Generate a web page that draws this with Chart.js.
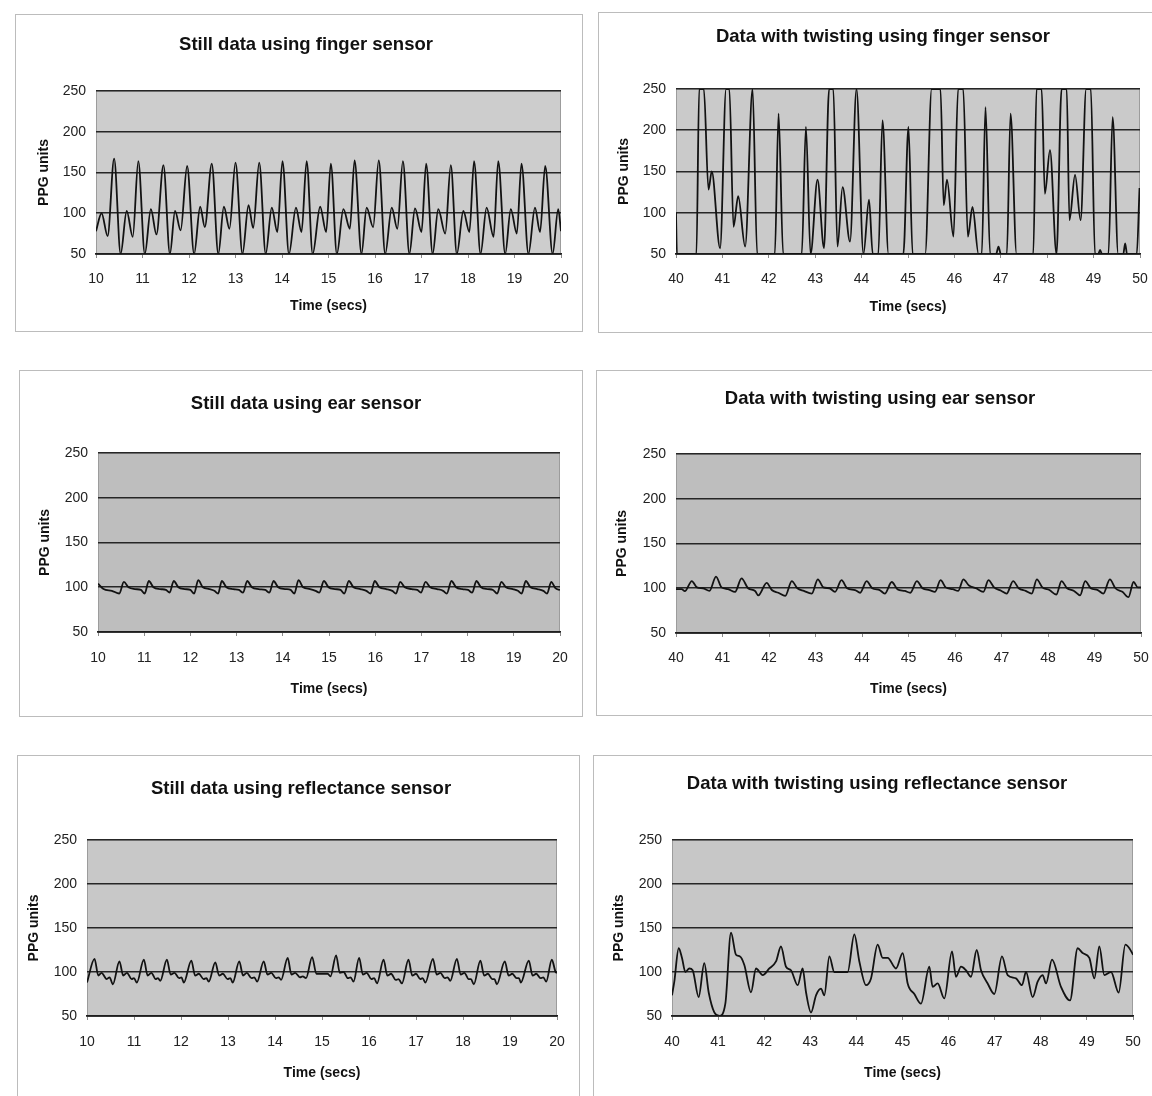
<!DOCTYPE html>
<html>
<head>
<meta charset="utf-8">
<title>PPG sensor comparison</title>
<script src="https://cdn.jsdelivr.net/npm/chart.js@4.4.1/dist/chart.umd.min.js"></script>
<style>
  html, body { margin: 0; padding: 0; background: #fff; }
  body { position: relative; width: 1152px; height: 1096px; overflow: hidden; }
  .frame { position: absolute; box-sizing: border-box; border: 1.5px solid #bcbcbc; }
  canvas { position: absolute; }
</style>
</head>
<body>
<script>
// ---- data (time in secs, PPG units) ----

const yTicks = [50, 100, 150, 200, 250];

// still, finger sensor
const fingerStillTime = [10.00, 10.12, 10.25,
  10.39, 10.53, 10.66, 10.79,  10.91, 11.05, 11.18, 11.30,  11.45, 11.59, 11.70, 11.82,
  11.96, 12.11, 12.24, 12.34,  12.49, 12.63, 12.75, 12.87,  13.00, 13.15, 13.28, 13.38,
  13.51, 13.65, 13.78, 13.90,  14.01, 14.15, 14.30, 14.42,  14.53, 14.66, 14.82, 14.95,
  15.05, 15.18, 15.32, 15.46,  15.56, 15.71, 15.82, 15.96,  16.08, 16.22, 16.36, 16.48,
  16.60, 16.74, 16.86, 17.00,  17.10, 17.24, 17.36, 17.51,  17.63, 17.76, 17.90, 18.03,
  18.13, 18.27, 18.40, 18.55,  18.65, 18.80, 18.92, 19.05,  19.15, 19.30, 19.44, 19.55,
  19.66, 19.82, 19.94, 20.00];
const fingerStillPPG = [78, 100, 72,
  167, 50, 103, 71,  164, 50, 105, 74,  159, 50, 103, 79,
  158, 50, 108, 83,  161, 50, 108, 81,  162, 50, 110, 82,
  162, 50, 107, 77,  164, 50, 107, 77,  164, 50, 108, 77,
  161, 50, 105, 81,  165, 50, 107, 83,  165, 50, 107, 81,
  164, 50, 106, 77,  161, 50, 105, 75,  159, 50, 103, 77,
  164, 50, 107, 71,  164, 50, 105, 75,  161, 50, 107, 77,
  158, 50, 105, 78];

// twisting, finger sensor (flat runs are where the trace is clipped at 50 / 250)
const fingerTwistTime = [40.00, 40.02, 40.44, 40.50, 40.60, 40.70, 40.77, 40.95, 41.08, 41.15,
  41.24, 41.34, 41.49, 41.65, 41.75, 42.13, 42.21, 42.31, 42.71, 42.80,
  42.90, 43.05, 43.19, 43.30, 43.39, 43.48, 43.59, 43.75, 43.89, 44.04,
  44.16, 44.24, 44.36, 44.45, 44.58, 44.90, 45.01, 45.10, 45.37, 45.51,
  45.70, 45.77, 45.84, 45.98, 46.08, 46.19, 46.29, 46.39, 46.52, 46.59,
  46.67, 46.77, 46.90, 46.95, 47.00, 47.13, 47.21, 47.34, 47.70, 47.77,
  47.88, 47.95, 48.06, 48.20, 48.31, 48.42, 48.48, 48.60, 48.72, 48.84,
  48.94, 49.03, 49.10, 49.14, 49.18, 49.32, 49.41, 49.53, 49.64, 49.68,
  49.72, 49.93, 49.99];
const fingerTwistPPG = [100, 50, 50, 250, 250, 128, 150, 57, 250, 250,
  83, 120, 59, 250, 50, 50, 220, 50, 50, 204,
  50, 140, 57, 250, 250, 59, 131, 65, 250, 50,
  116, 50, 50, 212, 50, 50, 204, 50, 50, 250,
  250, 109, 140, 71, 250, 250, 71, 107, 50, 50,
  228, 50, 50, 59, 50, 50, 220, 50, 50, 250,
  250, 123, 176, 50, 250, 250, 91, 146, 91, 250,
  250, 50, 50, 55, 50, 50, 216, 50, 50, 63,
  50, 50, 130];

// still, ear sensor
const earStillTime = [10.00, 10.12, 10.30, 10.46,
  10.56, 10.66, 10.80, 10.93, 11.01,  11.10, 11.20, 11.35, 11.47, 11.55,
  11.64, 11.74, 11.88, 12.00, 12.08,  12.17, 12.27, 12.41, 12.52, 12.60,
  12.68, 12.78, 12.93, 13.05, 13.14,  13.23, 13.33, 13.48, 13.62, 13.71,
  13.80, 13.90, 14.05, 14.17, 14.25,  14.34, 14.44, 14.59, 14.71, 14.79,
  14.89, 14.99, 15.13, 15.25, 15.33,  15.43, 15.53, 15.68, 15.81, 15.90,
  15.99, 16.09, 16.24, 16.37, 16.45,  16.54, 16.64, 16.79, 16.91, 16.99,
  17.09, 17.19, 17.34, 17.47, 17.55,  17.65, 17.75, 17.89, 18.01, 18.10,
  18.19, 18.29, 18.44, 18.55, 18.64,  18.73, 18.83, 18.98, 19.09, 19.17,
  19.26, 19.36, 19.51, 19.64, 19.72,  19.81, 19.90, 20.00];
const earStillPPG = [104, 98, 96, 93,
  106, 100, 98, 97, 93,  107, 100, 98, 97, 94,
  107, 100, 98, 97, 93,  108, 100, 98, 96, 93,
  107, 100, 98, 97, 94,  107, 100, 98, 97, 94,
  107, 100, 98, 97, 93,  108, 100, 98, 96, 94,
  107, 100, 98, 97, 93,  107, 100, 98, 96, 93,
  107, 100, 98, 96, 93,  106, 100, 98, 97, 94,
  106, 100, 98, 96, 93,  107, 100, 98, 97, 94,
  107, 100, 98, 97, 93,  106, 100, 98, 96, 93,
  107, 100, 98, 96, 93,  106, 99, 97];

// twisting, ear sensor
const earTwistTime = [40.00, 40.12, 40.19,
  40.34, 40.45, 40.58, 40.72,  40.86, 40.98, 41.12, 41.27,  41.41, 41.55, 41.70, 41.77,
  41.95, 42.06, 42.20, 42.35,  42.49, 42.61, 42.75, 42.92,  43.05, 43.17, 43.30, 43.42,
  43.56, 43.68, 43.85, 43.96,  44.10, 44.22, 44.38, 44.49,  44.64, 44.76, 44.92, 45.04,
  45.18, 45.30, 45.45, 45.57,  45.69, 45.80, 45.95, 46.07,  46.18, 46.30, 46.45, 46.61,
  46.72, 46.84, 47.00, 47.11,  47.25, 47.37, 47.52, 47.65,  47.76, 47.88, 48.03, 48.18,
  48.29, 48.41, 48.56, 48.69,  48.80, 48.92, 49.07, 49.19,  49.33, 49.45, 49.60, 49.73,
  49.84, 49.93, 50.00];
const earTwistPPG = [99, 99, 96.7,
  108, 101, 100, 97,  113, 101, 99, 96,  111, 100, 97, 92,
  106, 98, 95, 91.5,  108, 100, 97, 94,  110, 101, 100, 96,
  109, 100, 98, 95,  108, 100, 98, 94,  107, 99, 97, 95,
  108, 100, 98, 96,  109, 101, 99, 97,  110, 103, 100, 96,
  109, 101, 97, 94,  108, 100, 97, 94,  110, 101, 98, 93,
  108, 100, 97, 92,  108, 100, 98, 94,  110, 100, 96, 90,
  107, 101, 101];

// still, reflectance sensor
const reflStillTime = [10.00,
  10.16, 10.24, 10.31, 10.42, 10.48, 10.55,  10.69, 10.77, 10.85, 10.95, 11.00, 11.06,
  11.21, 11.29, 11.37, 11.46, 11.51, 11.56,  11.70, 11.78, 11.86, 11.96, 12.01, 12.06,
  12.22, 12.30, 12.38, 12.48, 12.54, 12.59,  12.73, 12.81, 12.89, 12.99, 13.05, 13.10,
  13.24, 13.32, 13.40, 13.50, 13.56, 13.62,  13.76, 13.84, 13.92, 14.02, 14.08, 14.13,
  14.27, 14.35, 14.43, 14.53, 14.59, 14.66,  14.79, 14.88, 15.00, 15.12, 15.18,
  15.30, 15.38, 15.46, 15.55, 15.61, 15.67,  15.79, 15.87, 15.95, 16.05, 16.11, 16.17,
  16.31, 16.39, 16.47, 16.57, 16.63, 16.70,  16.84, 16.92, 17.00, 17.09, 17.14, 17.20,
  17.36, 17.44, 17.52, 17.61, 17.67, 17.73,  17.87, 17.95, 18.03, 18.12, 18.17, 18.23,
  18.37, 18.45, 18.53, 18.62, 18.67, 18.72,  18.89, 18.97, 19.05, 19.14, 19.19, 19.23,
  19.40, 19.48, 19.56, 19.65, 19.71, 19.77,  19.89, 19.97, 20.00];
const reflStillPPG = [88,
  115, 96, 99, 92, 94, 86,  112, 96, 99, 92, 93, 88,
  114, 96, 99, 92, 93, 90,  114, 97, 99, 93, 94, 88,
  113, 96, 98, 92, 93, 89,  111, 96, 98, 92, 93, 88,
  112, 96, 99, 93, 94, 89,  112, 97, 99, 93, 94, 91,
  116, 97, 99, 94, 95, 93,  117, 98, 98, 98, 95,
  119, 99, 100, 93, 94, 89,  116, 97, 99, 92, 93, 87,
  114, 96, 98, 91, 92, 87,  114, 96, 98, 92, 93, 88,
  115, 97, 99, 93, 94, 90,  115, 97, 99, 92, 92, 86,
  113, 96, 98, 92, 92, 86,  112, 96, 98, 93, 93, 88,
  113, 96, 98, 93, 94, 89,  114, 100, 99];

// twisting, reflectance sensor
const reflTwistTime = [40.00, 40.05, 40.145, 40.217, 40.289, 40.376, 40.448, 40.578, 40.70, 40.795,
  40.918, 41.027, 41.157, 41.28, 41.388, 41.475, 41.569, 41.714, 41.822, 41.967,
  42.111, 42.256, 42.364, 42.473, 42.581, 42.726, 42.834, 42.907, 43.015, 43.124,
  43.232, 43.304, 43.413, 43.521, 43.81, 43.955, 44.064, 44.208, 44.317, 44.461,
  44.57, 44.678, 44.859, 45.004, 45.112, 45.257, 45.401, 45.582, 45.654, 45.763,
  45.907, 46.074, 46.16, 46.269, 46.377, 46.486, 46.609, 46.703, 46.847, 46.992,
  47.158, 47.281, 47.462, 47.592, 47.679, 47.824, 47.932, 48.04, 48.113, 48.243,
  48.438, 48.633, 48.80, 48.908, 49.053, 49.161, 49.27, 49.378, 49.523, 49.689,
  49.834, 49.921, 50.00];
const reflTwistPPG = [73.5, 89, 127, 116, 100, 104, 102, 71.5, 110, 77,
  54, 50, 64, 144.6, 119.6, 117.7, 108, 77, 104, 96.5,
  104, 112, 129, 106, 102, 85, 104, 77, 54, 73.5,
  81, 73.5, 117.7, 100, 100, 142.7, 112, 85, 92.7, 131,
  116, 116, 104, 121.5, 87, 75, 64, 106, 83, 87,
  70, 123.5, 94.6, 106, 102, 94.6, 125, 102, 87, 75,
  117.7, 96.5, 92.7, 85, 100, 71.5, 89, 96.5, 87, 114,
  83, 67.7, 127, 121.5, 116, 92.7, 129, 96.5, 100, 76.5,
  131, 127, 119.6];

// ---- layout of the six panels (page pixels) ----
const panels = [
  { title: 'Still data using finger sensor', time: fingerStillTime, ppg: fingerStillPPG, xMin: 10, xMax: 20,
    frame: [15, 14, 583, 332], plot: [96, 91, 561, 254], titleX: 306, titleY: 45, yTitleX: 44, xTitleY: 306, xLabelY: 279, bg: '#cdcdcd' },
  { title: 'Data with twisting using finger sensor', time: fingerTwistTime, ppg: fingerTwistPPG, xMin: 40, xMax: 50,
    frame: [598, 12, 1160, 333], plot: [676, 89, 1140, 254], titleX: 883, titleY: 37, yTitleX: 624, xTitleY: 307, xLabelY: 279, bg: '#cacaca' },
  { title: 'Still data using ear sensor', time: earStillTime, ppg: earStillPPG, xMin: 10, xMax: 20,
    frame: [19, 370, 583, 717], plot: [98, 453, 560, 632], titleX: 306, titleY: 404, yTitleX: 45, xTitleY: 689, xLabelY: 658, bg: '#bebebe' },
  { title: 'Data with twisting using ear sensor', time: earTwistTime, ppg: earTwistPPG, xMin: 40, xMax: 50,
    frame: [596, 370, 1160, 716], plot: [676, 454, 1141, 633], titleX: 880, titleY: 399, yTitleX: 622, xTitleY: 689, xLabelY: 658, bg: '#bebebe' },
  { title: 'Still data using reflectance sensor', time: reflStillTime, ppg: reflStillPPG, xMin: 10, xMax: 20,
    frame: [17, 755, 580, 1104], plot: [87, 840, 557, 1016], titleX: 301, titleY: 789, yTitleX: 34, xTitleY: 1073, xLabelY: 1042, bg: '#c8c8c8' },
  { title: 'Data with twisting using reflectance sensor', time: reflTwistTime, ppg: reflTwistPPG, xMin: 40, xMax: 50,
    frame: [593, 755, 1160, 1104], plot: [672, 840, 1133, 1016], titleX: 877, titleY: 784, yTitleX: 619, xTitleY: 1073, xLabelY: 1042, bg: '#c7c7c7' }
];

const FONT = '"Liberation Sans", Arial, sans-serif';
const TITLE_SIZE = 18.5, AXIS_SIZE = 14, TICK_SIZE = 14;

// grey plot area like the Excel charts
const plotBg = {
  id: 'plotBg',
  beforeDraw(chart, args, opts) {
    const { ctx, chartArea: a } = chart;
    ctx.save();
    ctx.fillStyle = opts.color;
    ctx.fillRect(a.left, a.top, a.right - a.left, a.bottom - a.top);
    ctx.strokeStyle = '#9c9c9c';
    ctx.lineWidth = 1;
    ctx.strokeRect(a.left + 0.5, a.top, a.right - a.left - 1, a.bottom - a.top);
    ctx.restore();
  }
};

function makePanel(p) {
  const [fl, ft, fr, fb] = p.frame;
  const W = fr - fl, H = fb - ft;

  const frame = document.createElement('div');
  frame.className = 'frame';
  Object.assign(frame.style, { left: fl + 'px', top: ft + 'px', width: W + 'px', height: H + 'px' });
  document.body.appendChild(frame);

  const canvas = document.createElement('canvas');
  canvas.width = W; canvas.height = H;
  Object.assign(canvas.style, { left: fl + 'px', top: ft + 'px', width: W + 'px', height: H + 'px' });
  document.body.appendChild(canvas);

  const padR = fr - p.plot[2];
  const padL = 2 * (p.titleX - fl) - W + padR;      // centres the title where the reference has it
  const yAxisW = (p.plot[0] - fl) - padL;
  const xAxisH = fb - p.plot[3];
  const tLH = TITLE_SIZE * 1.2, aLH = AXIS_SIZE * 1.2, kLH = TICK_SIZE * 1.2;
  const titleTop = p.titleY - ft - tLH / 2;
  const titleBottom = (p.plot[1] - ft) - titleTop - tLH;

  new Chart(canvas.getContext('2d'), {
    type: 'line',
    data: {
      datasets: [{
        data: p.time.map((t, i) => ({ x: t, y: p.ppg[i] })),
        borderColor: '#121212',
        borderWidth: 1.8,
        pointRadius: 0,
        fill: false,
        cubicInterpolationMode: 'monotone'
      }]
    },
    options: {
      responsive: false,
      animation: false,
      devicePixelRatio: 1,
      layout: { padding: { left: padL, right: padR, top: 0, bottom: 0 } },
      plugins: {
        legend: { display: false },
        tooltip: { enabled: false },
        plotBg: { color: p.bg },
        title: {
          display: true,
          text: p.title,
          color: '#111',
          font: { family: FONT, size: TITLE_SIZE, weight: 'bold' },
          padding: { top: titleTop, bottom: titleBottom }
        }
      },
      scales: {
        x: {
          type: 'linear',
          min: p.xMin, max: p.xMax,
          afterFit: (axis) => { axis.height = xAxisH; axis.paddingLeft = 0; axis.paddingRight = 0; },
          ticks: { stepSize: 1, color: '#222', font: { family: FONT, size: TICK_SIZE },
                   padding: p.xLabelY - p.plot[3] - 4 - kLH / 2, maxRotation: 0, autoSkip: false },
          grid: { drawOnChartArea: false, drawTicks: true, tickLength: 4, color: '#8a8a8a' },
          border: { display: true, color: '#1e1e1e', width: 1.8 },
          title: { display: true, text: 'Time (secs)', color: '#111',
                   font: { family: FONT, size: AXIS_SIZE, weight: 'bold' },
                   padding: { top: 0, bottom: fb - p.xTitleY - aLH / 2 } }
        },
        y: {
          min: yTicks[0], max: yTicks[yTicks.length - 1],
          afterFit: (axis) => { axis.width = yAxisW; axis.paddingTop = 0; axis.paddingBottom = 0; },
          afterBuildTicks: (axis) => { axis.ticks = yTicks.map(v => ({ value: v })); },
          ticks: { color: '#222', font: { family: FONT, size: TICK_SIZE }, padding: 10 },
          grid: { color: '#262626', lineWidth: 1.6, drawTicks: false },
          border: { display: false },
          title: { display: true, text: 'PPG units', color: '#111',
                   font: { family: FONT, size: AXIS_SIZE, weight: 'bold' },
                   padding: { top: (p.yTitleX - fl - padL) - aLH / 2, bottom: 0 } }
        }
      }
    },
    plugins: [plotBg]
  });
}

panels.forEach(makePanel);
</script>
</body>
</html>
